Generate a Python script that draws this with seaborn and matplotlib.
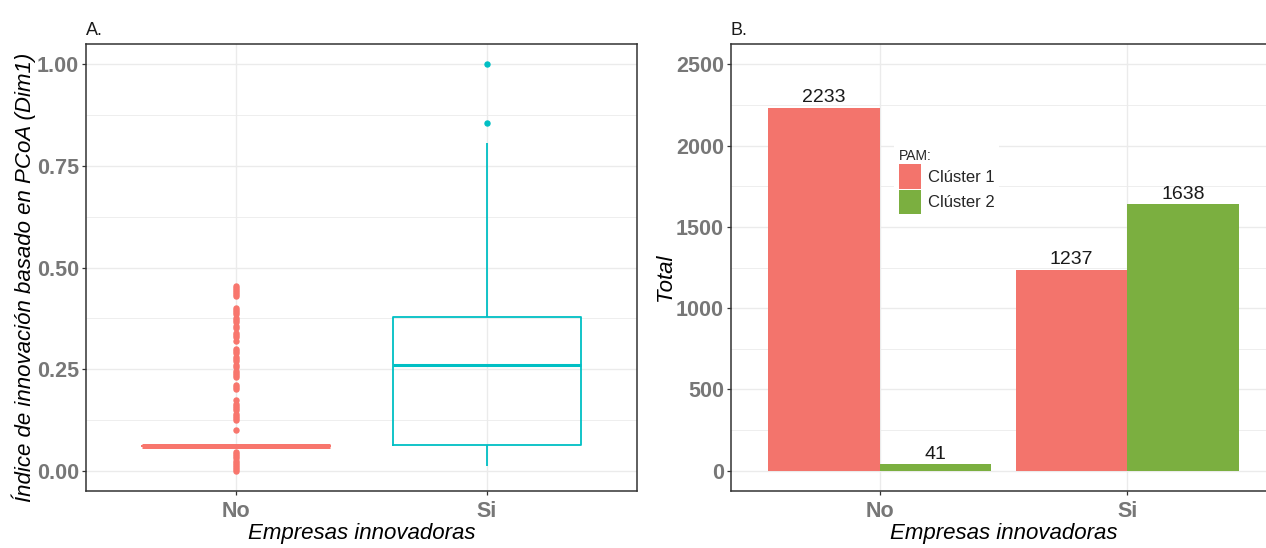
import matplotlib
matplotlib.use("Agg")
import matplotlib.pyplot as plt
from matplotlib.ticker import MultipleLocator, FixedLocator
import seaborn as sns
import pandas as pd

# ---------------- data ----------------
groups = ["No", "Si"]
box_colors = ["#F8766D", "#00BFC4"]

# "No" group: almost all firms share one value (collapsed box), plus outliers
no_core_value = 0.061
no_core_count = 300
no_outliers = [0.455, 0.45, 0.445, 0.44, 0.435, 0.43,
               0.40, 0.395, 0.39, 0.385, 0.375, 0.37, 0.365, 0.355, 0.35, 0.34, 0.335, 0.33, 0.32,
               0.30, 0.295, 0.29, 0.28, 0.275, 0.27, 0.26, 0.255, 0.245, 0.24, 0.235, 0.23,
               0.21, 0.205, 0.20,
               0.173, 0.165, 0.16, 0.155, 0.15, 0.14, 0.135, 0.13, 0.125,
               0.10,
               0.045, 0.04, 0.035, 0.03, 0.025, 0.02, 0.015, 0.01, 0.005, 0.0]
# "Si" group values (quartiles 0.064 / 0.26 / 0.378, whiskers 0.012-0.806)
si_values = [0.012, 0.03, 0.05, 0.064, 0.10, 0.20, 0.26, 0.30, 0.35, 0.378, 0.806, 0.855, 1.0]

bar_categories = ["No", "Si"]
cluster_labels = ["Clúster 1", "Clúster 2"]
cluster1_totals = [2233, 1237]
cluster2_totals = [41, 1638]
bar_colors = ["#F3746C", "#7BAF40"]

# ---------------- style ----------------
sns.set_theme(style="white")
plt.rcParams["font.family"] = ["Liberation Sans", "DejaVu Sans"]
grid_c = "#EBEBEB"
spine_c = "#333333"
tick_lab_c = "#777777"

W, H = 1266, 548
fig = plt.figure(figsize=(W / 100, H / 100), dpi=100)

def px_axes(l, t, r, b):
    return fig.add_axes([l / W, 1 - b / H, (r - l) / W, (b - t) / H])

ax1 = px_axes(86, 44, 637, 491)
ax2 = px_axes(731, 44, 1276, 491)

# ---------------- panel A ----------------
no_all = [no_core_value] * no_core_count + no_outliers
df_box = pd.DataFrame({
    "grupo": ["No"] * len(no_all) + ["Si"] * len(si_values),
    "valor": no_all + si_values,
})
median_widths = [3.6, 2.2]
for g, c, mw in zip(groups, box_colors, median_widths):
    sns.boxplot(data=df_box[df_box["grupo"] == g], x="grupo", y="valor", order=groups,
                color=c, fill=False, width=0.75, linewidth=1.3, whis=1.5, showcaps=False,
                flierprops=dict(marker="o", markerfacecolor=c, markeredgecolor=c, markersize=3.6),
                medianprops=dict(linewidth=mw, color=c), ax=ax1)
ax1.set_xlim(-0.6, 1.6)
ax1.set_ylim(-0.05, 1.05)
ax1.yaxis.set_major_locator(FixedLocator([0, 0.25, 0.5, 0.75, 1.0]))
ax1.yaxis.set_minor_locator(MultipleLocator(0.125))
ax1.set_yticklabels(["0.00", "0.25", "0.50", "0.75", "1.00"])

# ---------------- panel B ----------------
df_bar = pd.DataFrame({
    "emp": bar_categories * 2,
    "cluster": [cluster_labels[0]] * 2 + [cluster_labels[1]] * 2,
    "total": cluster1_totals + cluster2_totals,
})
sns.barplot(data=df_bar, x="emp", y="total", hue="cluster", hue_order=cluster_labels,
            palette=bar_colors, width=0.9, gap=0, saturation=1, errorbar=None,
            linewidth=0, ax=ax2)
for cont in ax2.containers:
    ax2.bar_label(cont, fontsize=14, padding=1, color="#1a1a1a")
ax2.set_xlim(-0.6, 1.6)
ax2.set_ylim(-125, 2625)
ax2.yaxis.set_major_locator(FixedLocator([0, 500, 1000, 1500, 2000, 2500]))
ax2.yaxis.set_minor_locator(MultipleLocator(250))

handles, labels = ax2.get_legend_handles_labels()
ax2.legend(handles, labels, title="PAM:", loc="upper left",
           bbox_to_anchor=(886 / W, 1 - 136 / H), bbox_transform=fig.transFigure,
           frameon=True, facecolor="white", edgecolor="none", framealpha=1, fancybox=False,
           fontsize=12, title_fontsize=10, handlelength=1.3, handleheight=1.9,
           labelspacing=0.05, handletextpad=0.4, borderpad=0.3, alignment="left")

# ---------------- common axis styling ----------------
for ax, ylab in [(ax1, "Índice de innovación basado en PCoA (Dim1)"), (ax2, "Total")]:
    ax.set_axisbelow(True)
    ax.grid(True, which="major", color=grid_c, linewidth=1.0)
    ax.grid(True, which="minor", axis="y", color=grid_c, linewidth=0.6)
    for s in ax.spines.values():
        s.set_color(spine_c)
        s.set_linewidth(1.1)
    ax.tick_params(axis="both", which="major", direction="out", length=3, width=0.9,
                   color=spine_c, pad=2, left=True, bottom=True)
    ax.tick_params(axis="x", which="major", pad=4)
    ax.tick_params(axis="y", which="minor", length=0)
    for lab in ax.get_xticklabels() + ax.get_yticklabels():
        lab.set_fontweight("bold")
        lab.set_fontsize(15.5)
        lab.set_color(tick_lab_c)
    ax.set_xlabel("Empresas innovadoras", fontsize=16, fontstyle="italic", color="black")
    ax.set_ylabel(ylab, fontsize=16, fontstyle="italic", color="black")
    ax.xaxis.set_label_coords(0.5, -0.072)

ax1.yaxis.set_label_coords((36 - 86) / 551, 0.478)
ax2.yaxis.set_label_coords((676 - 731) / 545, 0.478)

fig.text(86 / W, 1 - 35 / H, "A.", fontsize=13, color="#1a1a1a", va="baseline")
fig.text(731 / W, 1 - 35 / H, "B.", fontsize=13, color="#1a1a1a", va="baseline")

fig.savefig("out.png", dpi=100)
